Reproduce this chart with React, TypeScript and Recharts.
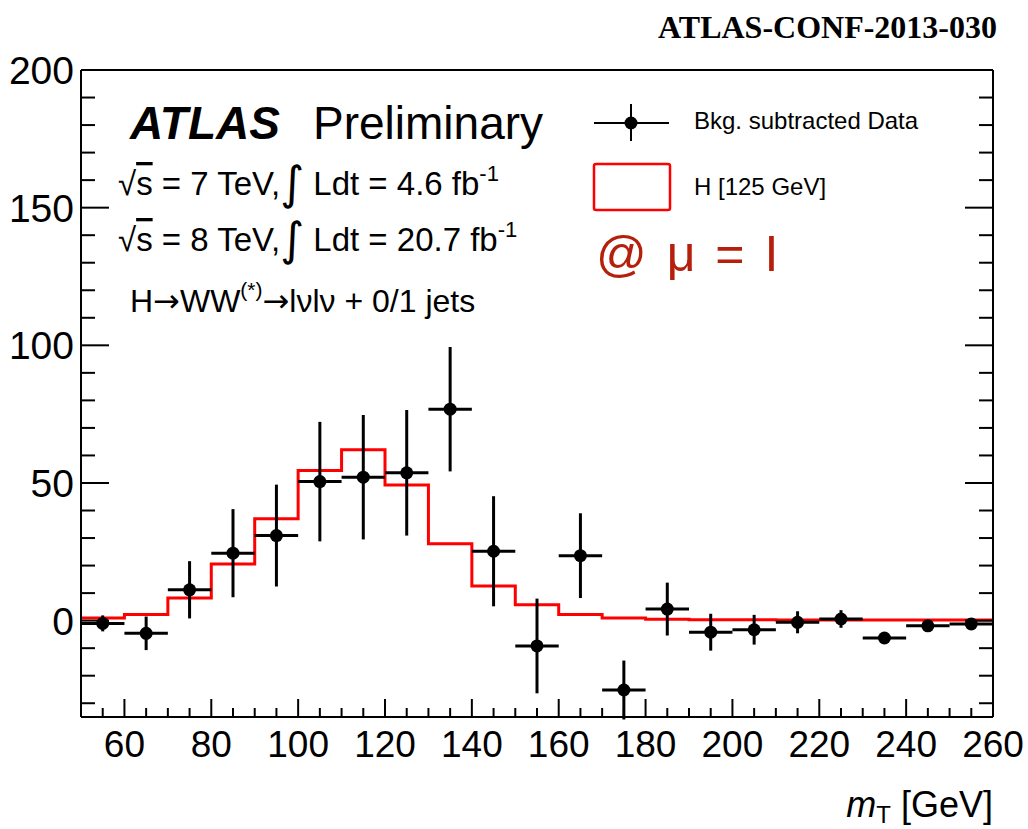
import React from 'react';
import { ComposedChart, Line, Scatter, ErrorBar, XAxis, YAxis } from 'recharts';

// ---- data ----
const binCenters = [55, 65, 75, 85, 95, 105, 115, 125, 135, 145, 155, 165, 175, 185, 195, 205, 215, 225, 235, 245, 255];
const binHalfWidth = 5;
const dataValues = [-1.0, -4.6, 11.2, 24.5, 30.9, 50.5, 52.1, 53.7, 76.8, 25.2, -9.2, 23.6, -25.2, 4.2, -4.2, -3.3, -0.6, 0.6, -6.3, -1.9, -1.2];
const dataErrors = [2.9, 6.1, 10.4, 16.0, 18.5, 21.7, 22.6, 22.8, 22.6, 20.0, 17.2, 15.4, 10.7, 9.6, 6.7, 5.4, 4.0, 3.2, 1.5, 1.2, 1.2];
const higgsValues = [1.0, 2.2, 8.2, 20.6, 37.0, 54.5, 62.1, 49.3, 27.9, 12.6, 5.8, 2.2, 1.0, 0.5, 0.3, 0.3, 0.2, 0.2, 0.2, 0.2, 0.2];

const xMajorTicks = [60, 80, 100, 120, 140, 160, 180, 200, 220, 240, 260];
const yMajorTicks = [0, 50, 100, 150, 200];
const xDomain: [number, number] = [50, 260];
const yDomain: [number, number] = [-35, 200];

// ---- derived tables ----
const xAllTicks: number[] = [];
for (let v = 50; v <= 260; v += 5) xAllTicks.push(v);
const yAllTicks: number[] = [];
for (let v = -30; v <= 200; v += 10) yAllTicks.push(v);

const stepData = binCenters
  .map((c, i) => ({ x: c - binHalfWidth, h: higgsValues[i] }))
  .concat([{ x: binCenters[binCenters.length - 1] + binHalfWidth, h: higgsValues[higgsValues.length - 1] }]);

const pointData = binCenters.map((c, i) => ({ x: c, y: dataValues[i], ey: dataErrors[i], ex: binHalfWidth }));

const FONT = '"Liberation Sans", Arial, Helvetica, sans-serif';
const ARROW_FONT = '"DejaVu Sans", sans-serif';
const isXMajor = (v: number) => xMajorTicks.includes(v);
const isYMajor = (v: number) => yMajorTicks.includes(v);

const BottomTick = (props: any) => {
  const { x, y, payload } = props;
  const major = isXMajor(payload.value);
  return (
    <g>
      <line x1={x} x2={x} y1={y} y2={y - (major ? 18 : 9)} stroke="#000" strokeWidth={2} />
      {major && (
        <text x={x} y={y + 40} textAnchor="middle" fontSize={37} fontFamily={FONT} fill="#000">
          {payload.value}
        </text>
      )}
    </g>
  );
};

const TopTick = (props: any) => {
  const { x, y, payload } = props;
  const major = isXMajor(payload.value);
  return <line x1={x} x2={x} y1={y} y2={y + (major ? 18 : 9)} stroke="#000" strokeWidth={2} />;
};

const LeftTick = (props: any) => {
  const { x, y, payload } = props;
  const major = isYMajor(payload.value);
  return (
    <g>
      <line x1={x} x2={x + (major ? 28 : 14)} y1={y} y2={y} stroke="#000" strokeWidth={2} />
      {major && (
        <text x={x - 7} y={y + 14} textAnchor="end" fontSize={39} fontFamily={FONT} fill="#000">
          {payload.value}
        </text>
      )}
    </g>
  );
};

const RightTick = (props: any) => {
  const { x, y, payload } = props;
  const major = isYMajor(payload.value);
  return <line x1={x} x2={x - (major ? 28 : 14)} y1={y} y2={y} stroke="#000" strokeWidth={2} />;
};

const Dot = (props: any) => <circle cx={props.cx} cy={props.cy} r={6.5} fill="#000" />;

const axisLine = { stroke: '#000', strokeWidth: 2 };

export default function App() {
  return (
    <div style={{ position: 'absolute', left: 0, top: 0, width: 1028, height: 829, background: '#fff' }}>
      <ComposedChart width={1028} height={829} margin={{ top: 60, right: 25, bottom: 52, left: 21 }}>
        <XAxis
          xAxisId="b"
          orientation="bottom"
          type="number"
          dataKey="x"
          domain={xDomain}
          allowDataOverflow
          ticks={xAllTicks}
          interval={0}
          tick={BottomTick}
          tickLine={false}
          tickSize={0}
          tickMargin={0}
          axisLine={axisLine}
          height={60}
        />
        <XAxis
          xAxisId="t"
          orientation="top"
          type="number"
          domain={xDomain}
          allowDataOverflow
          ticks={xAllTicks}
          interval={0}
          tick={TopTick}
          tickLine={false}
          tickSize={0}
          tickMargin={0}
          axisLine={axisLine}
          height={10}
        />
        <YAxis
          yAxisId="l"
          orientation="left"
          type="number"
          domain={yDomain}
          allowDataOverflow
          ticks={yAllTicks}
          interval={0}
          tick={LeftTick}
          tickLine={false}
          tickSize={0}
          tickMargin={0}
          axisLine={axisLine}
          width={60}
        />
        <YAxis
          yAxisId="r"
          orientation="right"
          type="number"
          domain={yDomain}
          allowDataOverflow
          ticks={yAllTicks}
          interval={0}
          tick={RightTick}
          tickLine={false}
          tickSize={0}
          tickMargin={0}
          axisLine={axisLine}
          width={10}
        />
        <Line
          xAxisId="b"
          yAxisId="l"
          data={stepData}
          dataKey="h"
          type="stepAfter"
          stroke="#ff0000"
          strokeWidth={3}
          dot={false}
          activeDot={false}
          isAnimationActive={false}
        />
        <Scatter
          xAxisId="b"
          yAxisId="l"
          data={pointData}
          dataKey="y"
          shape={Dot}
          fill="#000"
          isAnimationActive={false}
        >
          <ErrorBar dataKey="ey" direction="y" width={0} stroke="#000" strokeWidth={3} isAnimationActive={false} />
          <ErrorBar dataKey="ex" direction="x" width={0} stroke="#000" strokeWidth={3} isAnimationActive={false} />
        </Scatter>
      </ComposedChart>

      <svg
        width={1028}
        height={829}
        style={{ position: 'absolute', left: 0, top: 0, pointerEvents: 'none' }}
      >
        <text x={997} y={38} textAnchor="end" fontSize={32} fontWeight="bold" fontFamily='"Liberation Serif", "Times New Roman", serif' fill="#000">
          ATLAS-CONF-2013-030
        </text>

        <text x={130} y={139} fontSize={46} fontFamily={FONT} fill="#000">
          <tspan fontWeight="bold" fontStyle="italic">ATLAS</tspan>
          <tspan x={313}>Preliminary</tspan>
        </text>

        <text x={118} y={195} fontSize={33} fontFamily={FONT} fill="#000">
          √<tspan textDecoration="overline">s</tspan> = 7 TeV,<tspan fontSize={46} dy={4} fontFamily={ARROW_FONT}>∫</tspan>
          <tspan dy={-4}> Ldt = 4.6 fb</tspan>
          <tspan fontSize={22} dy={-14}>-1</tspan>
        </text>
        <text x={118} y={251} fontSize={33} fontFamily={FONT} fill="#000">
          √<tspan textDecoration="overline">s</tspan> = 8 TeV,<tspan fontSize={46} dy={4} fontFamily={ARROW_FONT}>∫</tspan>
          <tspan dy={-4}> Ldt = 20.7 fb</tspan>
          <tspan fontSize={22} dy={-14}>-1</tspan>
        </text>
        <text x={130} y={312} fontSize={32} fontFamily={FONT} fill="#000">
          H<tspan fontFamily={ARROW_FONT}>→</tspan>WW<tspan fontSize={21} dy={-15}>(*)</tspan>
          <tspan dy={15} fontFamily={ARROW_FONT}>→</tspan>lνlν + 0/1 jets
        </text>

        {/* legend */}
        <line x1={594} x2={669} y1={123} y2={123} stroke="#000" strokeWidth={2} />
        <line x1={631} x2={631} y1={104} y2={141} stroke="#000" strokeWidth={2} />
        <circle cx={631} cy={123} r={6.5} fill="#000" />
        <text x={694} y={129} fontSize={24} fontFamily={FONT} fill="#000">Bkg. subtracted Data</text>
        <rect x={594} y={164} width={76} height={46} rx={2} fill="none" stroke="#ff0000" strokeWidth={2.5} />
        <text x={694} y={195} fontSize={24} fontFamily={FONT} fill="#000">H [125 GeV]</text>

        <text x={596} y={271} fontSize={50} fontFamily={FONT} fill="#b4200b" wordSpacing={6}>
          @ μ = I
        </text>

        <text x={993} y={817} textAnchor="end" fontSize={36} fontFamily={FONT} fill="#000">
          <tspan fontStyle="italic">m</tspan>
          <tspan fontSize={24} dy={6}>T</tspan>
          <tspan dy={-6}> [GeV]</tspan>
        </text>
      </svg>
    </div>
  );
}
